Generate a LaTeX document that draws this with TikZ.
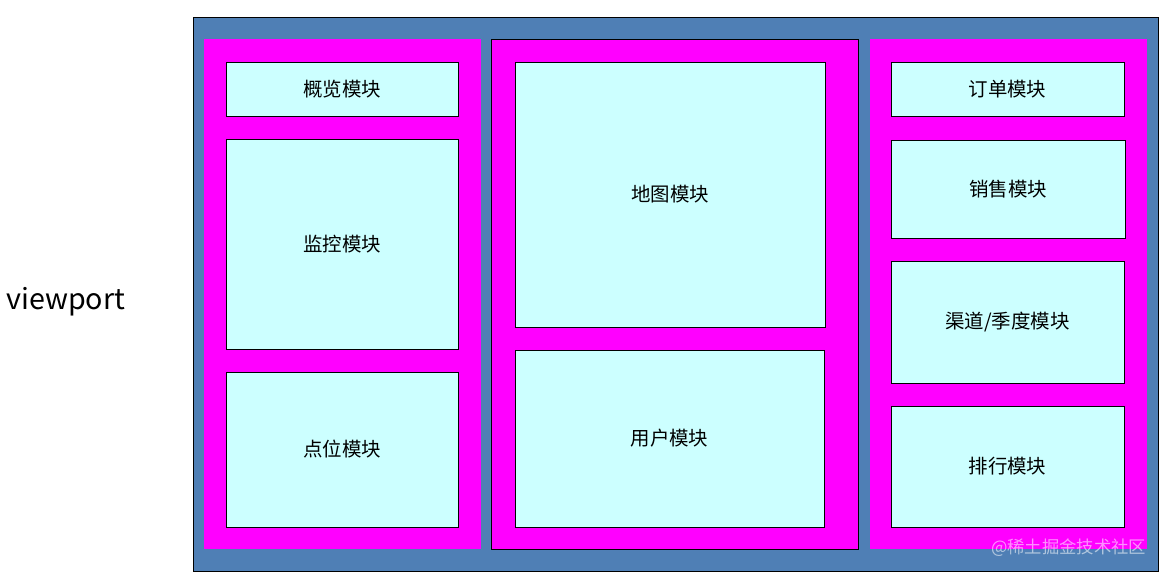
\documentclass[tikz,border=0pt]{standalone}
\usepackage{fontspec}
\newfontfamily\cjk{Noto Sans CJK SC}
\definecolor{viewblue}{HTML}{4F7FB5}
\definecolor{panelpink}{HTML}{FF00FF}
\definecolor{modcyan}{HTML}{CCFFFF}

\begin{document}
\begin{tikzpicture}[x=0.75pt,y=-0.75pt]
\tikzset{
  sized/.style 2 args={minimum width=#1*0.75pt,minimum height=#2*0.75pt,inner sep=0pt,outer sep=0pt},
  viewbox/.style={draw=black,fill=viewblue,line width=0.6pt},
  panel/.style={fill=panelpink},
  panelframed/.style={draw=black,fill=panelpink,line width=0.6pt},
  module/.style={draw=black,fill=modcyan,line width=0.6pt,font=\cjk\fontsize{14.6pt}{16pt}\selectfont}
}
\useasboundingbox (0,0) rectangle (1167,577);
\node[viewbox,sized={965}{554}] (n_view) at (675.5,294) {};
\node[panel,sized={277}{510}] (n_left) at (342.5,294) {};
\node[panelframed,sized={367}{510}] (n_mid) at (674.5,294) {};
\node[panel,sized={277}{510}] (n_right) at (1008.5,294) {};
\node[module,sized={232}{54}] (n_overview) at (342,89) {概览模块};
\node[module,sized={232}{210}] (n_monitor) at (342,244) {监控模块};
\node[module,sized={232}{155}] (n_point) at (342,449.5) {点位模块};
\node[module,sized={310}{265}] (n_map) at (670,194.5) {地图模块};
\node[module,sized={309}{177}] (n_user) at (669.5,438.5) {用户模块};
\node[module,sized={233}{54}] (n_order) at (1007.5,89) {订单模块};
\node[module,sized={234}{98}] (n_sales) at (1008,189) {销售模块};
\node[module,sized={233}{122}] (n_channel) at (1007.5,322) {渠道/季度模块};
\node[module,sized={233}{121}] (n_rank) at (1007.5,466.5) {排行模块};
\node[font=\cjk\fontsize{21.5pt}{23pt}\selectfont,inner sep=0pt,anchor=west] (n_label) at (6,302) {viewport};
\node[font=\cjk\fontsize{13pt}{14pt}\selectfont,text=white,opacity=0.55,anchor=east] (n_mark) at (1151,548) {@稀土掘金技术社区};
\end{tikzpicture}
\end{document}
